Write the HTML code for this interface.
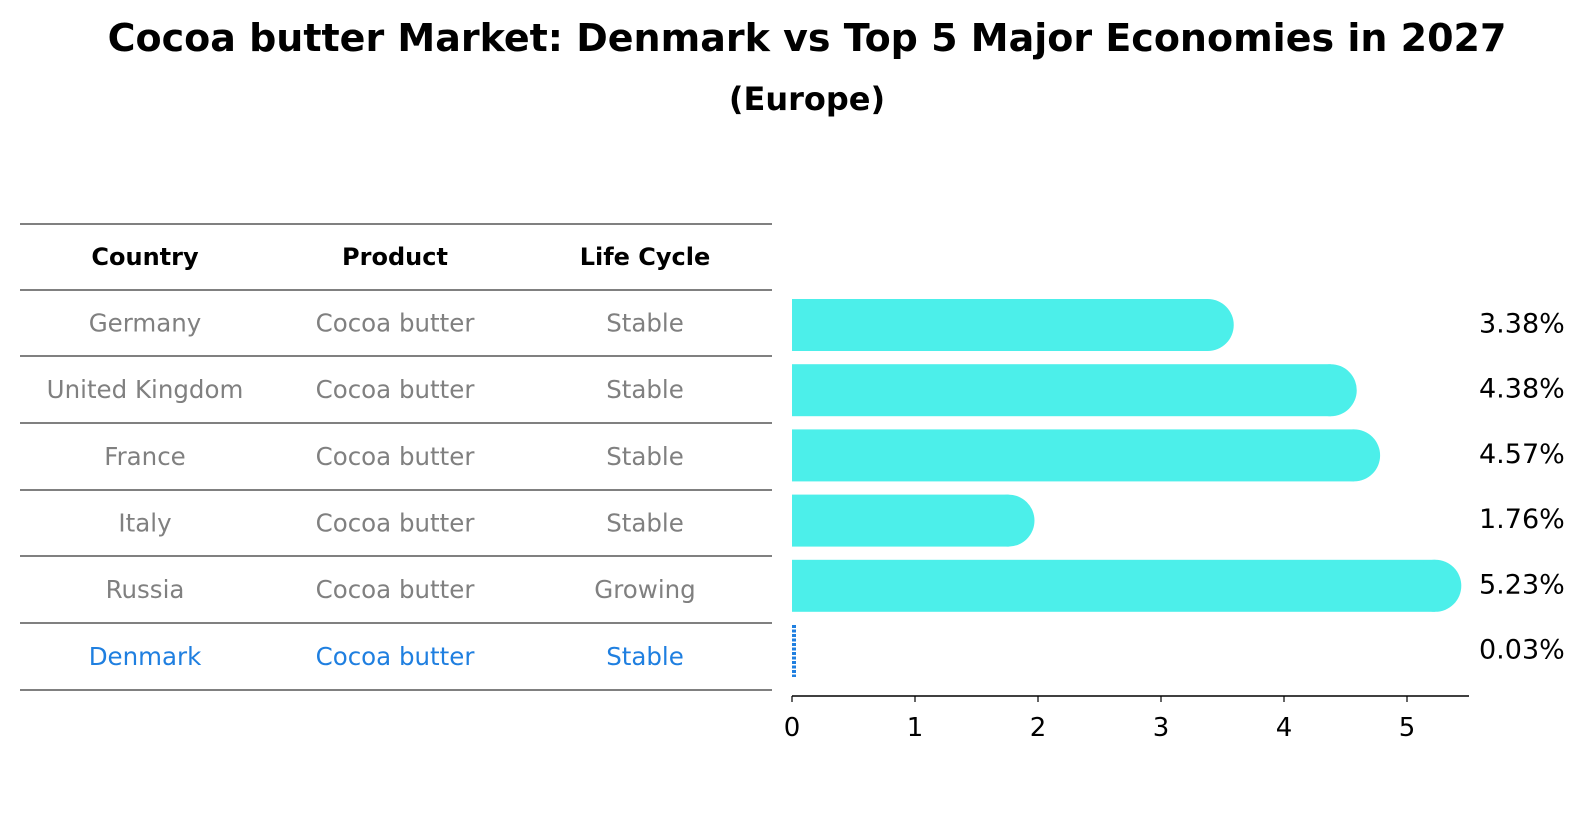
<!DOCTYPE html>
<html><head><meta charset="utf-8"><style>
body{margin:0;background:#fff;}
svg{display:block;font-family:"DejaVu Sans","Liberation Sans",sans-serif;}
</style></head><body>
<svg width="1586" height="823" viewBox="0 0 1586 823">
<text x="807" y="38" text-anchor="middle" dominant-baseline="central" font-size="38" font-weight="bold">Cocoa butter Market: Denmark vs Top 5 Major Economies in 2027</text>
<text x="807" y="99" text-anchor="middle" dominant-baseline="central" font-size="32" font-weight="bold">(Europe)</text>
<g id="table"></g>
<g id="bars"></g>
</svg>
<script>
const countries=["Germany","United Kingdom","France","Italy","Russia","Denmark"];
const products=["Cocoa butter","Cocoa butter","Cocoa butter","Cocoa butter","Cocoa butter","Cocoa butter"];
const lifecycle=["Stable","Stable","Stable","Stable","Growing","Stable"];
const values=[3.38,4.38,4.57,1.76,5.23,0.03];
const ticks=[0,1,2,3,4,5];
const NS="http://www.w3.org/2000/svg";
function mk(t,a,p,txt){const e=document.createElementNS(NS,t);for(const k in a)e.setAttribute(k,a[k]);if(txt!==undefined)e.textContent=txt;p.appendChild(e);return e;}
const tbl=document.getElementById('table'),bars=document.getElementById('bars');
const lines=[224,290,356,423,490,556,623,690];
const cols=[145,395,645];
const x=v=>792+v*123;
const rowY=i=>(lines[i+1]+lines[i+2])/2;
lines.forEach((y,i)=>{const l=mk('line',{x1:20,x2:772,y1:y,y2:y,stroke:'#000','stroke-width':1,'shape-rendering':'crispEdges'},tbl);

});
["Country","Product","Life Cycle"].forEach((h,j)=>{const t=mk('text',{x:cols[j],y:(lines[0]+lines[1])/2,'text-anchor':'middle','dominant-baseline':'central','font-size':24,'font-weight':'bold'},tbl,h);

});
countries.forEach((c,i)=>{const col=i===5?'#1f7fe0':'#808080';
[c,products[i],lifecycle[i]].forEach((s,j)=>{const t=mk('text',{x:cols[j],y:rowY(i),'text-anchor':'middle','dominant-baseline':'central','font-size':24.5,fill:col},tbl,s);

});});
const bh=52,r=26;
values.forEach((v,i)=>{const cy=325+i*65.2;
if(i===5){const l=mk('line',{x1:x(0)+2,x2:x(0)+2,y1:cy-26,y2:cy+26,stroke:'#1f7fe0','stroke-width':4,'stroke-dasharray':'3 1.5'},bars);

}
else{const g=mk('g',{},bars);


mk('rect',{x:x(0),y:cy-bh/2,width:x(v)-x(0),height:bh,fill:'#4cefea'},g);
mk('circle',{cx:x(v),cy:cy,r:r,fill:'#4cefea'},g);}
const t=mk('text',{x:1479,y:cy-1,'dominant-baseline':'central','font-size':27},bars,v.toFixed(2)+'%');

});
const ax=mk('line',{x1:x(0),x2:1469,y1:696,y2:696,stroke:'#000','stroke-width':1.5},bars);


ticks.forEach(t=>{const l=mk('line',{x1:x(t),x2:x(t),y1:696,y2:702,stroke:'#000','stroke-width':1.2},bars);


const tx=mk('text',{x:x(t),y:728,'text-anchor':'middle','dominant-baseline':'central','font-size':26},bars,t);

});
</script>
</body></html>
